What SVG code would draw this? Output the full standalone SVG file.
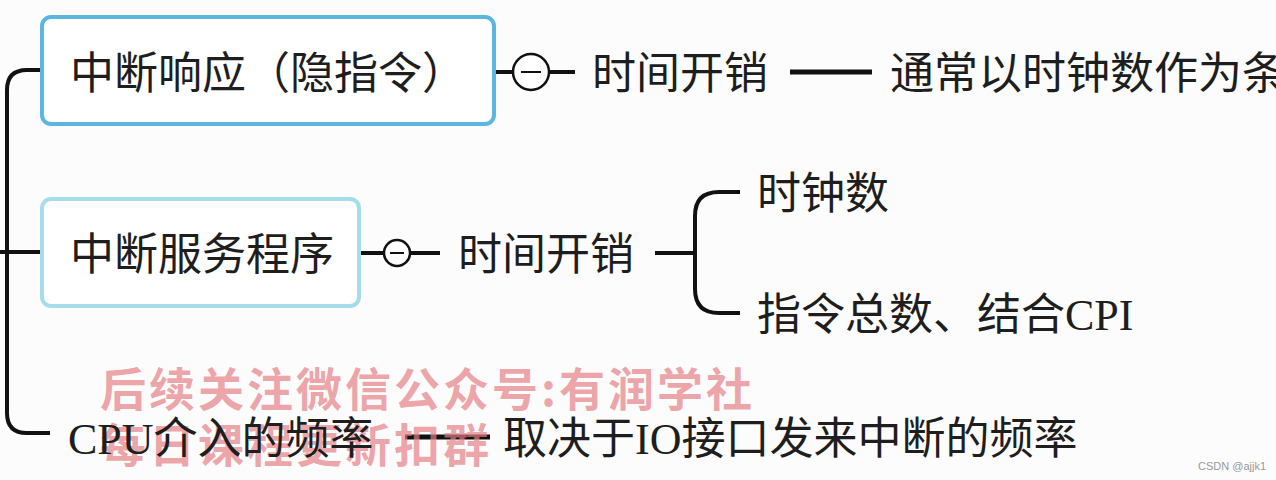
<svg xmlns="http://www.w3.org/2000/svg" width="1276" height="480" viewBox="0 0 1276 480">
<style>
.t{font-family:"Liberation Serif","Noto Sans CJK SC",sans-serif;font-size:44px;fill:#1e1e1e}
.c{fill:none;stroke:#111;stroke-width:4;stroke-linecap:butt}
.th{fill:none;stroke:#111;stroke-width:5}
.col{fill:#fff;stroke:#111;stroke-width:2.5}
.wm{font-family:"Noto Sans CJK SC",sans-serif;font-weight:700;font-size:46px;fill:#e67f86;fill-opacity:0.7;letter-spacing:3px}
</style>
<rect width="1276" height="480" fill="#fcfcfc"/>
<g id="connectors">
<path class="c" d="M50 70 H27 Q7 70 7 90 V413 Q7 433 27 433 H50"/>
<path class="c" d="M0 252 H50"/>
<path class="c" d="M488 72 H513 M549 72 H575"/>
<path class="th" d="M790 72 H872"/>
<path class="c" d="M358 253 H384 M410 253 H440"/>
<path class="c" d="M655 253 H695 M740 192 H719 Q695 192 695 216 V289 Q695 313 719 313 H740"/>
<path class="th" d="M405 437 H490"/>
</g>
<g id="node-response">
<rect x="42" y="17" width="452" height="107" rx="9" fill="#fff" stroke="#5cb6e2" stroke-width="4"/>
<text class="t" x="70" y="89">中断响应（隐指令）</text>
</g>
<g id="collapse-1"><circle class="col" cx="531" cy="72" r="18"/><path d="M521 72 H541" stroke="#111" stroke-width="2"/></g>
<g id="node-time1"><text class="t" x="592" y="89">时间开销</text></g>
<g id="node-clock-usual"><text class="t" x="890" y="89">通常以时钟数作为条</text></g>
<g id="node-service">
<rect x="42" y="199" width="317" height="107" rx="9" fill="#fff" stroke="#a7dcea" stroke-width="4"/>
<text class="t" x="70" y="270">中断服务程序</text>
</g>
<g id="collapse-2"><circle class="col" cx="397" cy="253" r="13"/><path d="M390 253 H404" stroke="#111" stroke-width="2"/></g>
<g id="node-time2"><text class="t" x="458" y="270">时间开销</text></g>
<g id="node-clocks"><text class="t" x="757" y="209">时钟数</text></g>
<g id="node-instr"><text class="t" x="757" y="330">指令总数、结合CPI</text></g>
<g id="watermark">
<text class="wm" x="100" y="406">后续关注微信公众号:有润学社</text>
<text class="wm" x="100" y="462">每日课程更新扣群</text>
</g>
<g id="node-cpu"><text class="t" x="68" y="454">CPU介入的频率</text></g>
<g id="node-freq"><text class="t" x="503" y="454">取决于IO接口发来中断的频率</text></g>
<text x="1198" y="470" font-family="Liberation Sans,sans-serif" font-size="11" fill="#999">CSDN @ajjk1</text>
</svg>
